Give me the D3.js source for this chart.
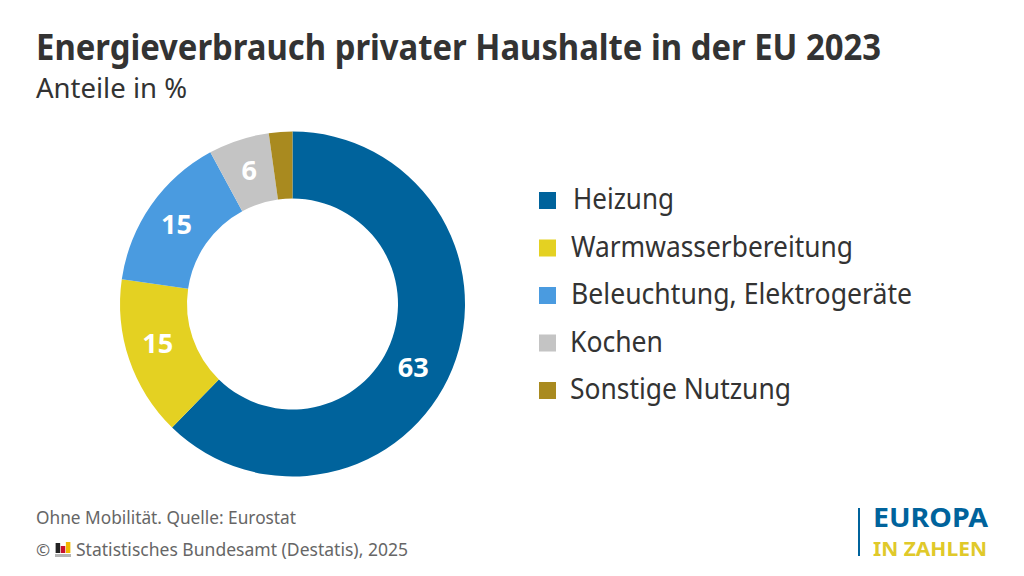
<!DOCTYPE html>
<html><head><meta charset="utf-8">
<script src="https://cdn.jsdelivr.net/npm/d3@7"></script>
<style>html,body{margin:0;padding:0;background:#fff}svg{display:block}text{font-family:"Noto Sans",sans-serif}</style>
</head><body><svg id="c" width="1024" height="576"></svg>
<script>
const categories=["Heizung","Warmwasserbereitung","Beleuchtung, Elektrogeräte","Kochen","Sonstige Nutzung"];
const values=[62.3,15.0,14.8,5.7,2.2];
const valueLabels=["63","15","15","6",""];
const colors=["#00639c","#e4d122","#4a9be0","#c4c4c4","#a98a1f"];
const title="Energieverbrauch privater Haushalte in der EU 2023";
const subtitle="Anteile in %";
const footer=["Ohne Mobilität. Quelle: Eurostat","Statistisches Bundesamt (Destatis), 2025"];
const logoBars=[["#222",10],["#c8102e",7],["#f2b800",11]];

// layout constants
const legendX=[573,571,571,570,570];
const legendW=[101,282,341,93,221];
const labelNudge=[[-8,11],[-3,-5],[-2,0],[0,-1],[0,0]];
const svg=d3.select("#c");
const fit=(sel,w)=>sel.attr("textLength",w).attr("lengthAdjust","spacingAndGlyphs");
fit(svg.append("text").attr("x",36).attr("y",60).attr("font-size",35.5).attr("font-weight",700).attr("fill","#333"),845).text(title);
fit(svg.append("text").attr("x",36).attr("y",98).attr("font-size",26.5).attr("fill","#333"),151).text(subtitle);

const g=svg.append("g").attr("transform","translate(292.5,304)");
const pie=d3.pie().sort(null)(values);
const arc=d3.arc().innerRadius(105.5).outerRadius(172.5);
g.selectAll("path").data(pie).join("path").attr("d",arc).attr("fill",(d,i)=>colors[i]);
g.selectAll("text").data(pie).join("text").attr("transform",(d,i)=>{const c=arc.centroid(d);return `translate(${c[0]+labelNudge[i][0]},${c[1]+labelNudge[i][1]})`;})
 .attr("text-anchor","middle").attr("dy","0.36em").attr("font-size",26).attr("font-weight",700).attr("fill","#fff")
 .attr("textLength",(d,i)=>valueLabels[i].length*15.5).attr("lengthAdjust","spacingAndGlyphs").text((d,i)=>valueLabels[i]);

const y=d3.scalePoint().domain(categories).range([200,390]);
const leg=svg.append("g").selectAll("g").data(categories).join("g");
leg.append("rect").attr("x",539).attr("y",d=>y(d)-8).attr("width",17).attr("height",17).attr("fill",(d,i)=>colors[i]);
leg.append("text").attr("x",(d,i)=>legendX[i]).attr("y",d=>y(d)+9).attr("font-size",28.5).attr("fill","#333")
 .attr("textLength",(d,i)=>legendW[i]).attr("lengthAdjust","spacingAndGlyphs").text(d=>d);

fit(svg.append("text").attr("x",36).attr("y",524).attr("font-size",18).attr("fill","#666"),260).text(footer[0]);
svg.append("text").attr("x",36).attr("y",556).attr("font-size",17).attr("fill","#666").text("©");
fit(svg.append("text").attr("x",76).attr("y",556).attr("font-size",18).attr("fill","#666"),332).text(footer[1]);
const lx=d3.scaleBand().domain(d3.range(logoBars.length)).range([55,71]).padding(0.12);
const ly=d3.scaleLinear().domain([0,11]).range([553,542]);
svg.append("g").selectAll("rect").data(logoBars).join("rect").attr("x",(d,i)=>lx(i)).attr("y",d=>ly(d[1])).attr("width",lx.bandwidth()).attr("height",d=>ly(0)-ly(d[1])).attr("fill",d=>d[0]);
svg.append("rect").attr("x",55).attr("y",554).attr("width",16).attr("height",3).attr("fill","#b5b5b5");

svg.append("rect").attr("x",858).attr("y",508).attr("width",2).attr("height",48).attr("fill","#00639c");
fit(svg.append("text").attr("x",873).attr("y",527).attr("font-size",26.5).attr("font-weight",700).attr("fill","#00639c"),115).text("EUROPA");
fit(svg.append("text").attr("x",873).attr("y",555.5).attr("font-size",19.5).attr("font-weight",700).attr("fill","#e0c92a"),114).text("IN ZAHLEN");
</script></body></html>
